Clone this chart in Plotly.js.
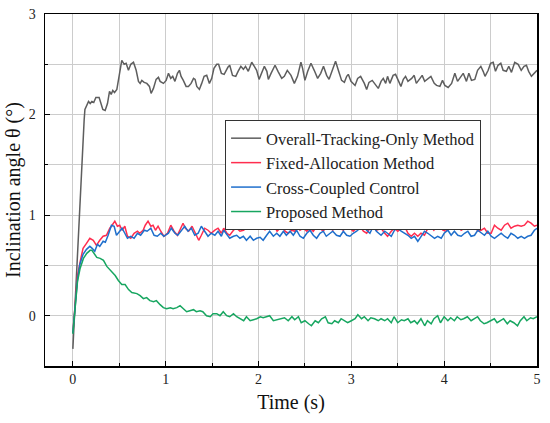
<!DOCTYPE html>
<html>
<head>
<meta charset="utf-8">
<script src="https://cdn.plot.ly/plotly-3.0.1.min.js"></script>
<style>html,body{margin:0;padding:0;background:#fff;}#chart{width:550px;height:423px;}</style>
</head>
<body>
<div id="chart"></div>
<script>
const seriesNames = ["Overall-Tracking-Only Method", "Fixed-Allocation Method", "Cross-Coupled Control", "Proposed Method"];

const grayT = [0,0.07,0.122,0.13,0.15,0.169,0.187,0.205,0.225,0.248,0.283,0.30,0.323,0.348,0.373,0.395,0.413,0.43,0.449,0.474,0.502,0.527,0.553,0.574,0.599,0.624,0.653,0.682,0.707,0.725,0.743,0.768,0.797,0.825,0.843,0.868,0.897,0.922,0.94,0.976,1.005,1.03,1.055,1.076,1.10,1.127,1.148,1.166,1.19,1.22,1.245,1.274,1.30,1.317,1.335,1.363,1.388,1.414,1.442,1.471,1.496,1.52,1.55,1.57,1.60,1.63,1.67,1.69,1.72,1.755,1.78,1.81,1.837,1.86,1.89,1.927,1.955,1.98,2.006,2.034,2.063,2.09,2.106,2.135,2.178,2.21,2.25,2.278,2.31,2.35,2.386,2.42,2.457,2.475,2.50,2.53,2.565,2.60,2.637,2.67,2.70,2.734,2.76,2.795,2.83,2.86,2.895,2.925,2.95,2.967,2.996,3.04,3.068,3.10,3.14,3.165,3.19,3.225,3.254,3.29,3.32,3.344,3.37,3.39,3.415,3.45,3.476,3.505,3.534,3.56,3.584,3.61,3.65,3.677,3.70,3.74,3.763,3.79,3.828,3.857,3.893,3.918,3.954,3.982,4.007,4.043,4.08,4.115,4.144,4.18,4.205,4.24,4.266,4.294,4.33,4.36,4.395,4.42,4.44,4.474,4.50,4.528,4.553,4.58,4.61,4.635,4.67,4.696,4.725,4.76,4.797,4.83,4.86,4.886,4.91,4.94,4.97,5.0];
const grayV = [-0.33,1.04,1.95,2.05,2.10,2.13,2.11,2.13,2.12,2.17,2.17,2.11,2.05,2.04,2.11,2.23,2.20,2.24,2.22,2.25,2.43,2.54,2.50,2.51,2.44,2.50,2.52,2.44,2.33,2.31,2.34,2.32,2.31,2.28,2.21,2.26,2.35,2.37,2.33,2.31,2.34,2.41,2.36,2.38,2.33,2.41,2.44,2.38,2.34,2.28,2.28,2.31,2.36,2.35,2.28,2.25,2.31,2.38,2.39,2.31,2.36,2.46,2.50,2.50,2.41,2.40,2.47,2.49,2.39,2.38,2.43,2.48,2.45,2.48,2.43,2.52,2.48,2.44,2.35,2.41,2.48,2.43,2.35,2.41,2.49,2.43,2.36,2.38,2.44,2.39,2.31,2.38,2.52,2.46,2.34,2.43,2.51,2.44,2.36,2.41,2.48,2.39,2.35,2.44,2.53,2.44,2.34,2.32,2.38,2.40,2.33,2.29,2.36,2.38,2.31,2.25,2.32,2.34,2.30,2.26,2.33,2.36,2.31,2.38,2.31,2.39,2.40,2.33,2.28,2.35,2.38,2.33,2.36,2.39,2.31,2.36,2.39,2.33,2.36,2.38,2.31,2.29,2.28,2.34,2.29,2.27,2.31,2.41,2.33,2.38,2.41,2.33,2.41,2.34,2.35,2.44,2.48,2.43,2.38,2.44,2.51,2.52,2.43,2.49,2.51,2.44,2.43,2.48,2.42,2.52,2.50,2.44,2.48,2.49,2.43,2.38,2.41,2.44];

const redT = [0,0.025,0.05,0.086,0.11,0.147,0.183,0.22,0.254,0.29,0.326,0.362,0.398,0.423,0.452,0.48,0.505,0.53,0.56,0.588,0.624,0.66,0.696,0.72,0.757,0.78,0.81,0.84,0.864,0.89,0.918,0.947,0.98,1.02,1.055,1.09,1.126,1.162,1.187,1.212,1.248,1.284,1.32,1.356,1.384,1.42,1.456,1.49,1.53,1.564,1.6,1.625,1.66,1.69,1.73,1.765,1.80,1.837,1.87,1.91,1.945,1.98,2.017,2.045,2.07,2.106,2.14,2.17,2.20,2.23,2.26,2.285,2.32,2.357,2.393,2.418,2.447,2.483,2.52,2.555,2.59,2.626,2.662,2.698,2.73,2.77,2.80,2.84,2.878,2.914,2.95,2.985,3.02,3.057,3.093,3.13,3.165,3.2,3.236,3.27,3.32,3.36,3.39,3.43,3.465,3.5,3.537,3.573,3.61,3.645,3.68,3.716,3.75,3.788,3.824,3.853,3.889,3.925,3.95,3.986,4.02,4.057,4.08,4.118,4.147,4.183,4.22,4.255,4.29,4.327,4.362,4.398,4.434,4.47,4.506,4.542,4.578,4.614,4.65,4.685,4.72,4.757,4.793,4.83,4.865,4.9,4.936,4.972,5.0];
const redV = [-0.17,0.15,0.40,0.57,0.67,0.72,0.77,0.75,0.70,0.75,0.79,0.80,0.87,0.90,0.94,0.89,0.90,0.85,0.89,0.79,0.77,0.82,0.84,0.82,0.85,0.90,0.94,0.89,0.90,0.85,0.89,0.84,0.79,0.82,0.90,0.84,0.80,0.87,0.92,0.87,0.84,0.89,0.82,0.75,0.80,0.87,0.85,0.82,0.85,0.87,0.82,0.87,0.82,0.80,0.85,0.87,0.84,0.85,0.87,0.94,0.87,0.89,0.95,0.92,0.85,0.90,0.96,0.89,0.84,0.87,0.92,0.84,0.82,0.85,0.84,0.89,0.85,0.87,0.84,0.87,0.84,0.89,0.87,0.84,0.89,0.87,0.85,0.92,0.87,0.85,0.89,0.87,0.84,0.87,0.89,0.84,0.82,0.87,0.90,0.85,0.87,0.82,0.79,0.84,0.87,0.84,0.87,0.89,0.82,0.79,0.82,0.79,0.82,0.80,0.87,0.89,0.85,0.90,0.92,0.85,0.84,0.87,0.92,0.87,0.90,0.85,0.87,0.92,0.87,0.90,0.84,0.85,0.87,0.82,0.82,0.90,0.87,0.85,0.90,0.92,0.87,0.89,0.90,0.89,0.90,0.94,0.92,0.89,0.90];

const blueT = [0,0.025,0.05,0.075,0.11,0.147,0.183,0.208,0.236,0.265,0.29,0.326,0.35,0.38,0.416,0.445,0.47,0.505,0.53,0.56,0.588,0.624,0.66,0.696,0.73,0.77,0.80,0.84,0.875,0.91,0.947,0.98,1.03,1.06,1.1,1.13,1.17,1.205,1.24,1.277,1.313,1.35,1.384,1.42,1.456,1.49,1.53,1.564,1.6,1.625,1.66,1.69,1.73,1.765,1.80,1.837,1.87,1.91,1.945,1.98,2.017,2.05,2.088,2.12,2.16,2.196,2.23,2.268,2.30,2.34,2.375,2.41,2.447,2.483,2.52,2.555,2.59,2.626,2.662,2.698,2.73,2.77,2.80,2.84,2.878,2.914,2.95,2.985,3.02,3.057,3.093,3.13,3.165,3.2,3.236,3.27,3.32,3.36,3.39,3.43,3.465,3.5,3.537,3.573,3.61,3.645,3.68,3.716,3.75,3.788,3.824,3.86,3.896,3.93,3.968,4.0,4.04,4.075,4.11,4.147,4.183,4.22,4.255,4.29,4.327,4.362,4.398,4.434,4.47,4.506,4.542,4.578,4.614,4.65,4.685,4.72,4.757,4.793,4.83,4.865,4.9,4.936,4.972,5.0];
const blueV = [-0.17,0.13,0.36,0.51,0.61,0.66,0.69,0.67,0.64,0.71,0.69,0.74,0.73,0.80,0.90,0.89,0.80,0.84,0.87,0.82,0.77,0.79,0.77,0.82,0.80,0.85,0.84,0.87,0.80,0.79,0.82,0.79,0.82,0.87,0.82,0.80,0.85,0.89,0.84,0.87,0.80,0.82,0.89,0.84,0.79,0.82,0.80,0.84,0.79,0.85,0.80,0.77,0.79,0.80,0.77,0.79,0.75,0.79,0.75,0.77,0.78,0.75,0.80,0.84,0.79,0.82,0.79,0.84,0.80,0.84,0.80,0.85,0.79,0.77,0.82,0.85,0.80,0.77,0.82,0.84,0.79,0.82,0.84,0.80,0.79,0.84,0.80,0.79,0.82,0.84,0.87,0.90,0.85,0.82,0.89,0.84,0.80,0.84,0.82,0.79,0.85,0.87,0.84,0.82,0.80,0.77,0.79,0.74,0.79,0.84,0.82,0.79,0.77,0.79,0.77,0.82,0.85,0.80,0.84,0.80,0.79,0.82,0.84,0.79,0.80,0.85,0.82,0.80,0.84,0.79,0.77,0.80,0.82,0.79,0.77,0.82,0.80,0.77,0.79,0.77,0.79,0.80,0.85,0.87];

const greenT = [0,0.025,0.05,0.078,0.114,0.15,0.186,0.205,0.227,0.258,0.294,0.33,0.366,0.42,0.456,0.49,0.527,0.563,0.6,0.635,0.69,0.725,0.76,0.795,0.83,0.87,0.90,0.94,0.975,1.01,1.05,1.08,1.12,1.155,1.19,1.226,1.26,1.30,1.33,1.37,1.40,1.44,1.48,1.51,1.55,1.585,1.62,1.657,1.69,1.73,1.765,1.80,1.84,1.87,1.91,1.945,1.98,2.02,2.05,2.085,2.12,2.16,2.2,2.23,2.28,2.32,2.36,2.39,2.43,2.46,2.50,2.54,2.57,2.61,2.645,2.68,2.72,2.75,2.79,2.82,2.86,2.89,2.93,2.96,3.0,3.04,3.07,3.11,3.14,3.18,3.21,3.25,3.29,3.32,3.36,3.39,3.43,3.46,3.50,3.54,3.57,3.61,3.64,3.68,3.71,3.75,3.79,3.82,3.86,3.89,3.93,3.96,4.0,4.04,4.07,4.11,4.14,4.18,4.21,4.25,4.29,4.32,4.36,4.39,4.43,4.46,4.50,4.54,4.57,4.61,4.64,4.68,4.71,4.75,4.79,4.82,4.86,4.89,4.93,4.96,5.0];
const greenV = [-0.18,0.12,0.34,0.47,0.57,0.62,0.65,0.65,0.62,0.58,0.57,0.55,0.49,0.43,0.40,0.35,0.31,0.31,0.26,0.23,0.22,0.20,0.17,0.18,0.15,0.14,0.15,0.11,0.08,0.07,0.08,0.07,0.08,0.10,0.07,0.04,0.05,0.06,0.04,0.05,0.04,0.00,-0.01,0.02,0.02,0.00,0.04,0.00,-0.01,0.02,-0.01,-0.03,-0.05,-0.01,-0.05,-0.04,-0.03,-0.01,-0.02,-0.01,0.00,-0.05,-0.04,-0.03,-0.02,-0.05,-0.01,-0.04,-0.01,-0.07,-0.05,-0.08,-0.10,-0.05,-0.07,-0.03,-0.01,-0.07,-0.08,-0.05,-0.07,-0.03,-0.05,-0.07,-0.05,-0.03,0.01,-0.03,-0.01,-0.05,-0.02,-0.03,-0.05,-0.03,-0.05,-0.03,-0.07,-0.01,-0.07,-0.04,-0.05,-0.03,-0.07,-0.05,-0.08,-0.03,-0.10,-0.05,-0.08,-0.03,0.00,-0.07,-0.01,-0.05,-0.02,-0.05,-0.01,-0.04,-0.03,-0.01,-0.05,-0.03,-0.01,-0.05,-0.08,-0.07,-0.05,-0.03,-0.07,-0.05,-0.03,-0.08,-0.05,-0.07,-0.10,-0.05,-0.01,-0.05,-0.02,-0.03,-0.01];

const colors = ["#5e5e5e", "#ff2d4f", "#1f6fcc", "#17a660"];
const xs = [grayT, redT, blueT, greenT];
const ys = [grayV, redV, blueV, greenV];

const traces = seriesNames.map((n, i) => ({
  x: xs[i], y: ys[i], name: n, type: "scatter", mode: "lines",
  line: {color: colors[i], width: 1.5}
}));

const font = "Liberation Serif, Times New Roman, serif";
const gridC = "#cccccc";
const layout = {
  width: 550, height: 423,
  margin: {l: 45, r: 13, t: 14, b: 57},
  paper_bgcolor: "#fff", plot_bgcolor: "#fff",
  font: {family: font, color: "#222", size: 14},
  showlegend: true,
  xaxis: {
    range: [-0.3, 5], tick0: 0, dtick: 1, ticks: "inside", ticklen: 5, tickcolor: "#000",
    showline: true, mirror: true, linecolor: "#000", linewidth: 1.5,
    showgrid: true, gridcolor: gridC, gridwidth: 1, zeroline: false,
    minor: {dtick: 0.5, ticks: "inside", ticklen: 3, tickcolor: "#000", showgrid: true, gridcolor: gridC, gridwidth: 1},
    tickfont: {size: 14, family: font, color: "#222"},
    title: {text: "Time (s)", font: {size: 20, family: font, color: "#111"}, standoff: 8},
    automargin: false
  },
  yaxis: {
    range: [-0.5, 3], tick0: 0, dtick: 1, ticks: "inside", ticklen: 5, tickcolor: "#000",
    showline: true, mirror: true, linecolor: "#000", linewidth: 1.5,
    showgrid: true, gridcolor: gridC, gridwidth: 1, zeroline: false,
    minor: {dtick: 0.5, ticks: "inside", ticklen: 3, tickcolor: "#000", showgrid: true, gridcolor: gridC, gridwidth: 1},
    tickfont: {size: 14, family: font, color: "#222"},
    ticklabelstandoff: 5,
    title: {text: "Inclination angle θ (°)", font: {size: 20, family: font, color: "#111"}, standoff: 2},
    automargin: false
  },
  legend: {
    x: 0.366, y: 0.699, xanchor: "left", yanchor: "top",
    bgcolor: "#fff", bordercolor: "#333", borderwidth: 1,
    font: {family: font, size: 16.5, color: "#222"},
    itemwidth: 30, tracegroupgap: 0
  }
};

Plotly.newPlot("chart", traces, layout, {displayModeBar: false, staticPlot: true});
</script>
</body>
</html>
